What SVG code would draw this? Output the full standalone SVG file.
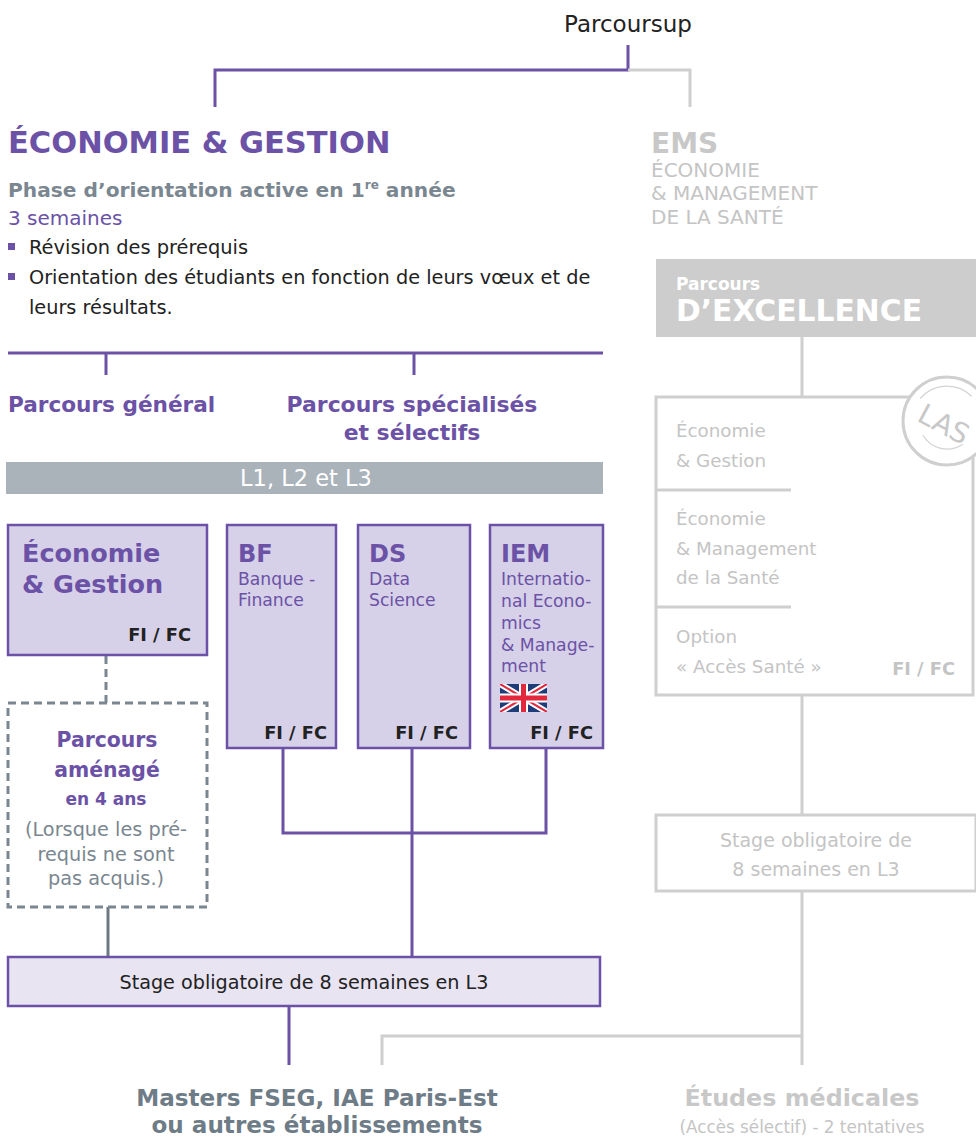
<svg xmlns="http://www.w3.org/2000/svg" width="976" height="1140" viewBox="0 0 976 1140">
<defs>
<style>
text{font-family:"DejaVu Sans","Verdana",sans-serif}
.p{fill:#6b52a6}
.b{font-weight:bold}
.g{fill:#7a8690}
.lg{fill:#c4c4c4}
.dk{fill:#222}
.pl{stroke:#6b52a6;stroke-width:3;fill:none}
.gl{stroke:#cfcfcf;stroke-width:3;fill:none}
.box{fill:#d6d0e8;stroke:#6b52a6;stroke-width:2.5}
.mid{text-anchor:middle}
.end{text-anchor:end}
</style>
<clipPath id="fc"><rect x="500" y="684" width="47" height="28"/></clipPath>
<clipPath id="vp"><rect x="0" y="0" width="976" height="1140"/></clipPath>
</defs>
<rect width="976" height="1140" fill="#fff"/>

<g id="connectors">
<polyline class="pl" points="628,45 628,70 215,70 215,107"/>
<polyline class="gl" points="628,70 690,70 690,107"/>
<line class="pl" x1="8" y1="353" x2="603" y2="353"/>
<line class="pl" x1="106" y1="353" x2="106" y2="375"/>
<line class="pl" x1="414" y1="353" x2="414" y2="375"/>
<line x1="106" y1="656" x2="106" y2="703" stroke="#7a8690" stroke-width="3" stroke-dasharray="8,5"/>
<line x1="108" y1="907" x2="108" y2="957" stroke="#6e7880" stroke-width="3"/>
<polyline class="pl" points="283,748 283,833 546,833 546,748"/>
<line class="pl" x1="412" y1="748" x2="412" y2="957"/>
<line class="pl" x1="289" y1="1006" x2="289" y2="1065"/>
<line class="gl" x1="802" y1="337" x2="802" y2="397"/>
<line class="gl" x1="802" y1="695" x2="802" y2="815"/>
<line class="gl" x1="802" y1="891" x2="802" y2="1065"/>
<polyline class="gl" points="802,1036 382,1036 382,1065"/>
</g>

<g id="parcoursup">
<text x="628" y="32" class="mid dk" font-size="23">Parcoursup</text>
</g>

<g id="eco-gestion-header">
<text x="8" y="153" class="p b" font-size="30.5">ÉCONOMIE &amp; GESTION</text>
<text x="8" y="197" class="g b" font-size="20.2">Phase d’orientation active en 1<tspan font-size="12" dy="-8">re</tspan><tspan dy="8"> année</tspan></text>
<text x="8" y="225" class="p" font-size="20">3 semaines</text>
<rect x="8" y="243" width="7" height="7" fill="#6b52a6"/>
<text x="29" y="254" class="dk" font-size="19.4">Révision des prérequis</text>
<rect x="8" y="273" width="7" height="7" fill="#6b52a6"/>
<text x="29" y="284" class="dk" font-size="19.3">Orientation des étudiants en fonction de leurs vœux et de</text>
<text x="29" y="314" class="dk" font-size="19.3">leurs résultats.</text>
</g>

<g id="parcours-general">
<text x="8" y="412" class="p b" font-size="21.6">Parcours général</text>
</g>
<g id="parcours-specialises">
<text x="412" y="412" class="p b mid" font-size="21.9">Parcours spécialisés</text>
<text x="412" y="440" class="p b mid" font-size="21.9">et sélectifs</text>
</g>

<g id="l1-l3">
<rect x="6" y="462" width="597" height="32" fill="#aab2ba"/>
<text x="306" y="486" class="mid" fill="#fff" font-size="22.5">L1, L2 et L3</text>
</g>

<g id="eg-box">
<rect class="box" x="8" y="525" width="199" height="130"/>
<text x="22" y="562" class="p b" font-size="25.5">Économie</text>
<text x="22" y="593" class="p b" font-size="25.5">&amp; Gestion</text>
<text x="191" y="641" class="dk b end" font-size="17.8">FI / FC</text>
</g>

<g id="bf-box">
<rect class="box" x="227" y="525" width="109" height="223"/>
<text x="238" y="562" class="p b" font-size="24">BF</text>
<text x="238" y="585" class="p" font-size="17.2">Banque -</text>
<text x="238" y="606" class="p" font-size="17.2">Finance</text>
<text x="327" y="739" class="dk b end" font-size="17.8">FI / FC</text>
</g>

<g id="ds-box">
<rect class="box" x="358" y="525" width="112" height="223"/>
<text x="369" y="562" class="p b" font-size="24">DS</text>
<text x="369" y="585" class="p" font-size="17.2">Data</text>
<text x="369" y="606" class="p" font-size="17.2">Science</text>
<text x="458" y="739" class="dk b end" font-size="17.8">FI / FC</text>
</g>

<g id="iem-box">
<rect class="box" x="490" y="525" width="113" height="223"/>
<text x="501" y="562" class="p b" font-size="24">IEM</text>
<text x="501" y="585" class="p" font-size="17.2">Internatio-</text>
<text x="501" y="607" class="p" font-size="17.2">nal Econo-</text>
<text x="501" y="629" class="p" font-size="17.2">mics</text>
<text x="501" y="651" class="p" font-size="17.2">&amp; Manage-</text>
<text x="501" y="672" class="p" font-size="17.2">ment</text>
<g clip-path="url(#fc)">
<rect x="500" y="684" width="47" height="28" fill="#1f3c7a"/>
<path d="M500,684 L547,712 M547,684 L500,712" stroke="#fff" stroke-width="6"/>
<path d="M500,684 L547,712 M547,684 L500,712" stroke="#e3283e" stroke-width="2"/>
<path d="M523.5,684 V712 M500,698 H547" stroke="#fff" stroke-width="9"/>
<path d="M523.5,684 V712 M500,698 H547" stroke="#e3283e" stroke-width="5"/>
</g>
<text x="593" y="739" class="dk b end" font-size="17.8">FI / FC</text>
</g>

<g id="parcours-amenage">
<rect x="8" y="703" width="199" height="204" fill="#fff" stroke="#7a8690" stroke-width="3" stroke-dasharray="8,5"/>
<text x="107" y="747" class="p b mid" font-size="20.4">Parcours</text>
<text x="107" y="777" class="p b mid" font-size="20.4">aménagé</text>
<text x="106" y="805" class="p b mid" font-size="17">en 4 ans</text>
<text x="106" y="836" class="g mid" font-size="19.3">(Lorsque les pré-</text>
<text x="106" y="861" class="g mid" font-size="19.3">requis ne sont</text>
<text x="106" y="885" class="g mid" font-size="19.3">pas acquis.)</text>
</g>

<g id="stage-eg">
<rect x="8" y="957" width="592" height="49" fill="#e8e4f2" stroke="#6b52a6" stroke-width="2.5"/>
<text x="304" y="989" class="dk mid" font-size="19.2">Stage obligatoire de 8 semaines en L3</text>
</g>

<g id="masters">
<text x="317" y="1106" class="b mid" fill="#6e7c87" font-size="23.1">Masters FSEG, IAE Paris-Est</text>
<text x="317" y="1133" class="b mid" fill="#6e7c87" font-size="23.1">ou autres établissements</text>
</g>

<g id="ems">
<text x="651" y="153" class="b" fill="#c8c8c8" font-size="28">EMS</text>
<text x="651" y="177" class="lg" font-size="20">ÉCONOMIE</text>
<text x="651" y="200" class="lg" font-size="20">&amp; MANAGEMENT</text>
<text x="651" y="224" class="lg" font-size="20">DE LA SANTÉ</text>
</g>

<g id="excellence">
<rect x="656" y="259" width="320" height="78" fill="#cdcdcd"/>
<text x="676" y="290" class="b" fill="#fff" font-size="17">Parcours</text>
<text x="676" y="321" class="b" fill="#fff" font-size="29.8">D’EXCELLENCE</text>
</g>

<g id="las">
<rect x="656" y="397" width="317" height="298" fill="#fff" stroke="#cfcfcf" stroke-width="3"/>
<line x1="656" y1="490" x2="791" y2="490" stroke="#cfcfcf" stroke-width="3"/>
<line x1="656" y1="607" x2="791" y2="607" stroke="#cfcfcf" stroke-width="3"/>
<text x="676" y="437" class="lg" font-size="18.3">Économie</text>
<text x="676" y="467" class="lg" font-size="18.3">&amp; Gestion</text>
<text x="676" y="525" class="lg" font-size="18.3">Économie</text>
<text x="676" y="555" class="lg" font-size="18.3">&amp; Management</text>
<text x="676" y="584" class="lg" font-size="18.3">de la Santé</text>
<text x="676" y="643" class="lg" font-size="18.3">Option</text>
<text x="676" y="673" class="lg" font-size="18.3">« Accès Santé »</text>
<text x="955" y="675" class="lg b end" font-size="17.8">FI / FC</text>
<g clip-path="url(#vp)">
<circle cx="947" cy="421" r="44" fill="#fff" stroke="#cfcfcf" stroke-width="3"/>
<path d="M920.2,398.5 A35,35 0 0 1 971.7,396.3" fill="none" stroke="#d4d4d4" stroke-width="1.3"/>
<path d="M922.8,435 A28,28 0 0 0 962.7,444.2" fill="none" stroke="#d4d4d4" stroke-width="1.3"/>
<text x="944" y="434" class="mid" fill="#c8c8c8" font-size="28" transform="rotate(28 944 424)">LAS</text>
</g>
</g>

<g id="stage-ems">
<rect x="656" y="815" width="320" height="76" fill="#fff" stroke="#cfcfcf" stroke-width="3"/>
<text x="816" y="847" class="lg mid" font-size="19">Stage obligatoire de</text>
<text x="816" y="876" class="lg mid" font-size="19">8 semaines en L3</text>
</g>

<g id="etudes-medicales">
<text x="802" y="1106" class="b mid" fill="#c8c8c8" font-size="23.8">Études médicales</text>
<text x="802" y="1133" class="lg mid" font-size="16.8">(Accès sélectif)  - 2 tentatives</text>
</g>
</svg>
